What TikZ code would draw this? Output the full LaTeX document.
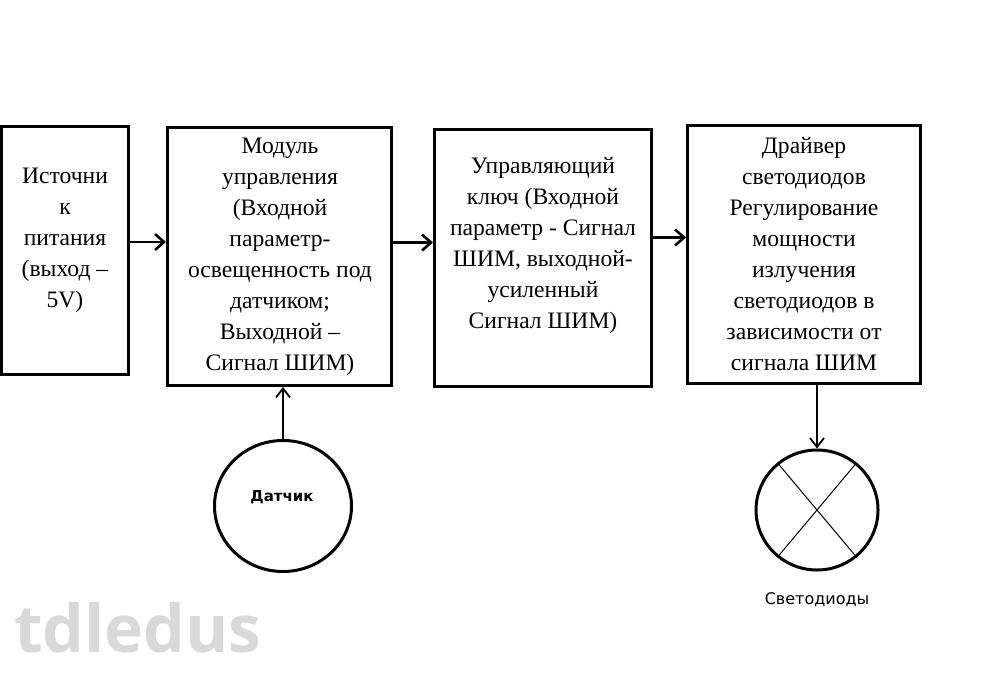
\documentclass[tikz,border=0pt]{standalone}
\usepackage{fontspec}
\setmainfont{Liberation Serif}
\newfontfamily\labelfont{DejaVu Sans}
\newfontfamily\markfont{Open Sans}
\usetikzlibrary{shapes.geometric,arrows.meta,positioning}
\tikzset
{
    blockbox/.style  = {rectangle, draw=black, line width=3pt, inner sep=0pt},
    blocktext/.style = {align=center, inner sep=0pt, font=\fontsize{23.6}{31}\selectfont},
    roundnode/.style = {ellipse, draw=black, line width=3pt, inner sep=0pt},
    smalltext/.style = {font=\labelfont\fontsize{16}{18}\selectfont},
    flowarrow/.style = {-{Straight Barb[length=9pt, width=16pt]}, line width=2.6pt},
    feedarrow/.style = {-{Straight Barb[length=9pt, width=14pt]}, line width=1.8pt}
}

\begin{document}
\begin{tikzpicture}[x=1pt, y=-1pt]
	\useasboundingbox (0,0) rectangle (1000,677);
	\node[blockbox, minimum width=127pt, minimum height=248pt] (source) at (65,250) {};
	\node[blockbox, minimum width=224pt, minimum height=258pt] (module) at (279.5,256.5) {};
	\node[blockbox, minimum width=217pt, minimum height=257pt] (switch) at (543,257.5) {};
	\node[blockbox, minimum width=233pt, minimum height=258pt] (driver) at (804,254.5) {};
	\node[blocktext] (sourcetext) at (65,240) {Источни\\к\\питания\\(выход --\\5V)};
	\node[blocktext] (moduletext) at (280,257) {Модуль\\управления\\(Входной\\параметр-\\освещенность под\\датчиком;\\Выходной --\\Сигнал ШИМ)};
	\node[blocktext] (switchtext) at (543,245.5) {Управляющий\\ключ (Входной\\параметр - Сигнал\\ШИМ, выходной-\\усиленный\\Сигнал ШИМ)};
	\node[blocktext] (drivertext) at (804,254) {Драйвер\\светодиодов\\Регулирование\\мощности\\излучения\\светодиодов в\\зависимости от\\сигнала ШИМ};
	\node[roundnode, minimum width=137pt, minimum height=131pt] (sensor) at (283,506) {};
	\node[smalltext, font=\labelfont\bfseries\fontsize{15}{18}\selectfont] (sensortext) at (282,497) {Датчик};
	\node[roundnode, minimum width=122pt, minimum height=120pt] (led) at (817,510) {};
	\node[smalltext, below=18pt of led] (ledtext) {Светодиоды};
	\draw[line width=1pt, shorten <=2pt, shorten >=2pt] (led.130) -- (led.-50);
	\draw[line width=1pt, shorten <=2pt, shorten >=2pt] (led.50) -- (led.-130);
	\draw[flowarrow] ([yshift=8pt]source.east) -- ([yshift=8pt]source.east -| module.west);
	\draw[flowarrow] ([yshift=14pt]module.east) -- ([yshift=14pt]module.east -| switch.west);
	\draw[flowarrow] ([yshift=20pt]switch.east) -- ([yshift=20pt]switch.east -| driver.west);
	\draw[feedarrow] (sensor.north) -- (sensor.north |- module.south);
	\draw[feedarrow] (driver.south -| led.north) -- (led.north);
	\node[anchor=base west, inner sep=0pt, text=black!15, font=\markfont\bfseries\fontsize{66}{66}\selectfont] (mark) at (14,652) {tdledus};
\end{tikzpicture}
\end{document}
